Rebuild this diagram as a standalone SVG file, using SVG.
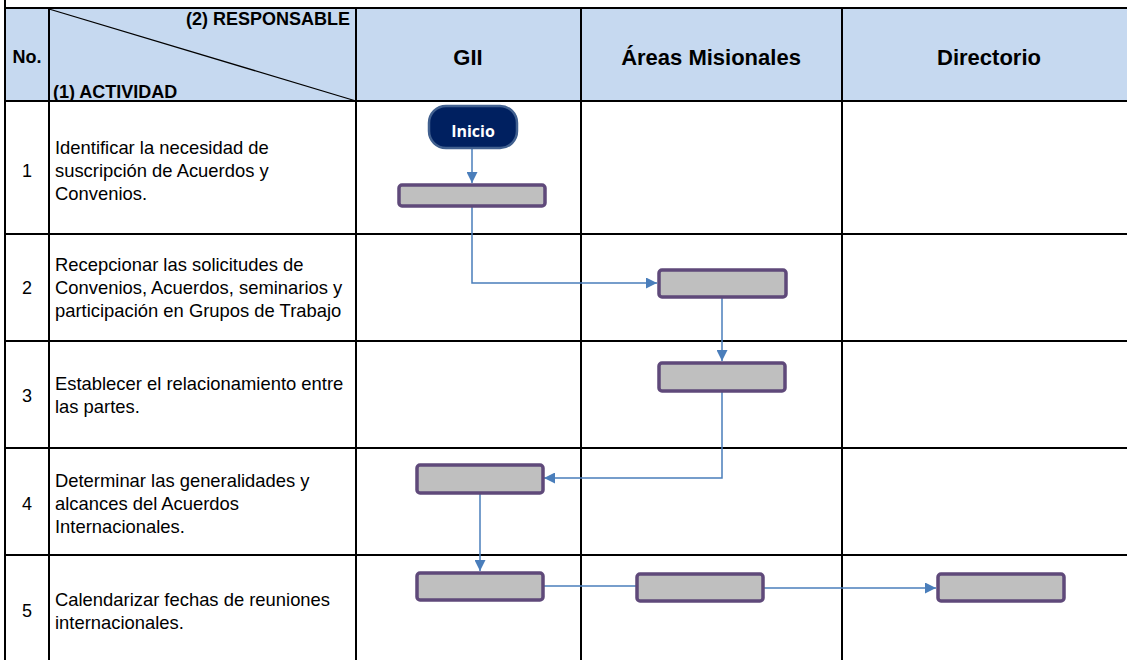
<svg xmlns="http://www.w3.org/2000/svg" width="1127" height="660" viewBox="0 0 1127 660">
<defs>
<style>
.grid{stroke:#000;stroke-width:2;fill:none}
.hdr{font-family:"Liberation Sans",Arial,sans-serif;font-weight:bold;fill:#000}
.h18{font-size:18px}
.h22{font-size:22px}
.txt{font-family:"Liberation Sans",Arial,sans-serif;font-size:18.4px;fill:#000}
.num{font-family:"Liberation Sans",Arial,sans-serif;font-size:18px;fill:#000;text-anchor:middle}
.box{fill:#BFBFBF;stroke:#5F497A;stroke-width:3.5}
.con{fill:none;stroke:#4A7EBB;stroke-width:1.5}
</style>
<marker id="ah" viewBox="0 0 10 10" refX="10" refY="5" markerWidth="11" markerHeight="11" markerUnits="userSpaceOnUse" orient="auto">
<path d="M0,0 L10,5 L0,10 Z" fill="#4A7EBB"/>
</marker>
</defs>
<rect x="0" y="0" width="1127" height="660" fill="#fff"/>
<g id="header">
<rect x="5" y="8" width="1122" height="93" fill="#C6D9F0"/>
<line x1="49" y1="9" x2="356" y2="101" stroke="#000" stroke-width="1.3"/>
<text class="hdr h18" x="27" y="63" text-anchor="middle">No.</text>
<text class="hdr h18" x="350" y="25" text-anchor="end">(2) RESPONSABLE</text>
<text class="hdr h18" x="53" y="98">(1) ACTIVIDAD</text>
<text class="hdr h22" x="468" y="65" text-anchor="middle">GII</text>
<text class="hdr h22" x="711" y="65" text-anchor="middle">Áreas Misionales</text>
<text class="hdr h22" x="989" y="65" text-anchor="middle">Directorio</text>
</g>
<g id="grid" class="grid">
<line x1="5" y1="0" x2="5" y2="660"/>
<line x1="4" y1="8" x2="1127" y2="8"/>
<line x1="4" y1="101" x2="1127" y2="101"/>
<line x1="4" y1="234" x2="1127" y2="234"/>
<line x1="4" y1="341" x2="1127" y2="341"/>
<line x1="4" y1="448" x2="1127" y2="448"/>
<line x1="4" y1="555" x2="1127" y2="555"/>
<line x1="49" y1="8" x2="49" y2="660"/>
<line x1="356" y1="8" x2="356" y2="660"/>
<line x1="581" y1="8" x2="581" y2="660"/>
<line x1="842" y1="8" x2="842" y2="660"/>
</g>
<g id="activities">
<text class="num" x="27" y="177">1</text>
<text class="txt" x="55" y="154">Identificar la necesidad de</text>
<text class="txt" x="55" y="177">suscripción de Acuerdos y</text>
<text class="txt" x="55" y="200">Convenios.</text>
<text class="num" x="27" y="294">2</text>
<text class="txt" x="55" y="271">Recepcionar las solicitudes de</text>
<text class="txt" x="55" y="294">Convenios, Acuerdos, seminarios y</text>
<text class="txt" x="55" y="317">participación en Grupos de Trabajo</text>
<text class="num" x="27" y="402">3</text>
<text class="txt" x="55" y="390">Establecer el relacionamiento entre</text>
<text class="txt" x="55" y="413">las partes.</text>
<text class="num" x="27" y="510">4</text>
<text class="txt" x="55" y="487">Determinar las generalidades y</text>
<text class="txt" x="55" y="510">alcances del Acuerdos</text>
<text class="txt" x="55" y="533">Internacionales.</text>
<text class="num" x="27" y="617">5</text>
<text class="txt" x="55" y="606">Calendarizar fechas de reuniones</text>
<text class="txt" x="55" y="629">internacionales.</text>
</g>
<g id="connectors">
<line class="con" x1="472" y1="149" x2="472" y2="183" marker-end="url(#ah)"/>
<polyline class="con" points="472,207 472,283 657,283" marker-end="url(#ah)"/>
<line class="con" x1="722" y1="298" x2="722" y2="361" marker-end="url(#ah)"/>
<polyline class="con" points="722,392 722,478 544,478" marker-end="url(#ah)"/>
<line class="con" x1="480" y1="494" x2="480" y2="571" marker-end="url(#ah)"/>
<line class="con" x1="544" y1="586" x2="636" y2="586"/>
<line class="con" x1="764" y1="588" x2="936" y2="588" marker-end="url(#ah)"/>
</g>
<g id="n-inicio">
<rect x="429" y="106" width="88" height="42" rx="17" fill="#002060" stroke="#41608F" stroke-width="2.5"/>
<text x="473" y="136.5" text-anchor="middle" font-family="'Open Sans','Liberation Sans',sans-serif" font-weight="bold" font-size="16px" fill="#fff">Inicio</text>
</g>
<g id="n-1"><rect class="box" x="399" y="185" width="146" height="21" rx="3"/></g>
<g id="n-2"><rect class="box" x="659" y="270" width="127" height="27" rx="3"/></g>
<g id="n-3"><rect class="box" x="659" y="363" width="126" height="28" rx="3"/></g>
<g id="n-4"><rect class="box" x="417" y="465" width="126" height="28" rx="3"/></g>
<g id="n-5a"><rect class="box" x="417" y="573" width="126" height="27" rx="3"/></g>
<g id="n-5b"><rect class="box" x="637" y="574" width="126" height="27" rx="3"/></g>
<g id="n-5c"><rect class="box" x="938" y="574" width="126" height="27" rx="3"/></g>
</svg>
